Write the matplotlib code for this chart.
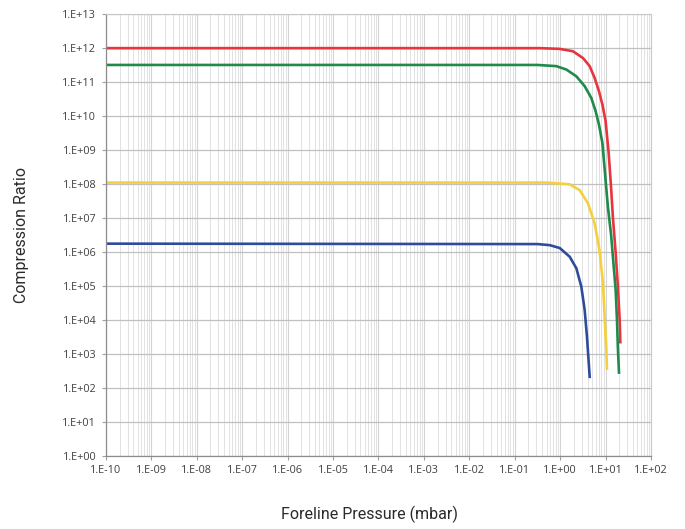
import numpy as np
import matplotlib.pyplot as plt
from matplotlib.ticker import LogLocator, FuncFormatter, NullFormatter

# Datos (presión en mbar, relación de compresión)
p_red = [1e-10, 0.355, 0.975, 1.91, 3.18, 4.46, 5.74, 7.14, 8.49, 10.0, 11.7, 13.2, 14.5, 16.6, 18.6, 20.4, 21.1]
c_red = [1e12, 1e12, 9.5e11, 8.1e11, 5.1e11, 2.95e11, 1.32e11, 5.4e10, 2.2e10, 7.1e9, 7.9e8, 7.9e7, 1e7, 1e6, 1e5, 1e4, 2.2e3]

p_green = [1e-10, 0.316, 0.824, 1.37, 2.27, 3.46, 4.85, 6.04, 7.14, 8.51, 11.2, 13.2, 14.8, 16.6, 17.8, 18.6, 19.7]
c_green = [3.2e11, 3.2e11, 2.95e11, 2.34e11, 1.48e11, 7.6e10, 3.4e10, 1.38e10, 5.6e9, 1.6e9, 2.2e7, 3.2e6, 5e5, 8e4, 1e4, 1.6e3, 2.8e2]

p_yellow = [1e-10, 0.5, 1.62, 2.69, 4.09, 5.74, 7.24, 8.71, 9.53, 10.4, 10.7]
c_yellow = [1.1e8, 1.1e8, 9.8e7, 6.6e7, 2.7e7, 6.9e6, 1.26e6, 1.3e5, 1.2e4, 1.3e3, 3.7e2]

p_blue = [1e-10, 0.32, 0.59, 0.98, 1.62, 2.27, 2.92, 3.46, 3.89, 4.46]
c_blue = [1.75e6, 1.7e6, 1.58e6, 1.3e6, 7.2e5, 3.3e5, 9.5e4, 1.95e4, 3.2e3, 2.1e2]

plt.rcParams['font.family'] = ['Open Sans', 'DejaVu Sans']

fig = plt.figure(figsize=(6.85, 5.29), dpi=100)
ax = fig.add_axes([0.1547, 0.1386, 0.7957, 0.8346])

ax.plot(p_red, c_red, color='#E8343C', lw=1.9, solid_joinstyle='round')
ax.plot(p_green, c_green, color='#1F8A4C', lw=1.9, solid_joinstyle='round')
ax.plot(p_yellow, c_yellow, color='#F4D03F', lw=1.9, solid_joinstyle='round')
ax.plot(p_blue, c_blue, color='#2F4C9C', lw=1.9, solid_joinstyle='round')

ax.set_xscale('log')
ax.set_yscale('log')
ax.set_xlim(1e-10, 1e2)
ax.set_ylim(1e0, 1e13)

fmt = FuncFormatter(lambda v, pos: "1.E{:+03d}".format(int(round(np.log10(v)))))
ax.xaxis.set_major_locator(LogLocator(base=10, numticks=20))
ax.yaxis.set_major_locator(LogLocator(base=10, numticks=20))
ax.xaxis.set_minor_locator(LogLocator(base=10, subs=np.arange(2, 10), numticks=200))
ax.yaxis.set_minor_locator(LogLocator(base=10, subs=[], numticks=20))
ax.xaxis.set_major_formatter(fmt)
ax.yaxis.set_major_formatter(fmt)
ax.xaxis.set_minor_formatter(NullFormatter())

ax.tick_params(axis='both', which='major', labelsize=7.8, colors='#404040', length=3, width=0.8, pad=4)
ax.tick_params(axis='x', which='minor', length=0)
ax.tick_params(axis='both', which='major', color='#A0A0A0')

ax.grid(True, which='major', axis='y', color='#C0C0C0', lw=0.9)
ax.grid(True, which='major', axis='x', color='#D4D4D4', lw=0.8)
ax.grid(True, which='minor', axis='x', color='#E2E2E2', lw=0.7)
ax.set_axisbelow(True)

for side in ['left', 'bottom']:
    ax.spines[side].set_color('#8C8C8C')
    ax.spines[side].set_linewidth(0.9)
for side in ['top', 'right']:
    ax.spines[side].set_color('#C8C8C8')
    ax.spines[side].set_linewidth(0.8)

fig.text(0.54, 0.027, 'Foreline Pressure (mbar)', ha='center', va='center',
         fontsize=11.5, color='#2A2A2A', family=['Roboto', 'DejaVu Sans'])
fig.text(0.032, 0.556, 'Compression Ratio', ha='center', va='center', rotation=90,
         fontsize=11.5, color='#2A2A2A', family=['Roboto', 'DejaVu Sans'])

fig.savefig('out.png', dpi=100)
